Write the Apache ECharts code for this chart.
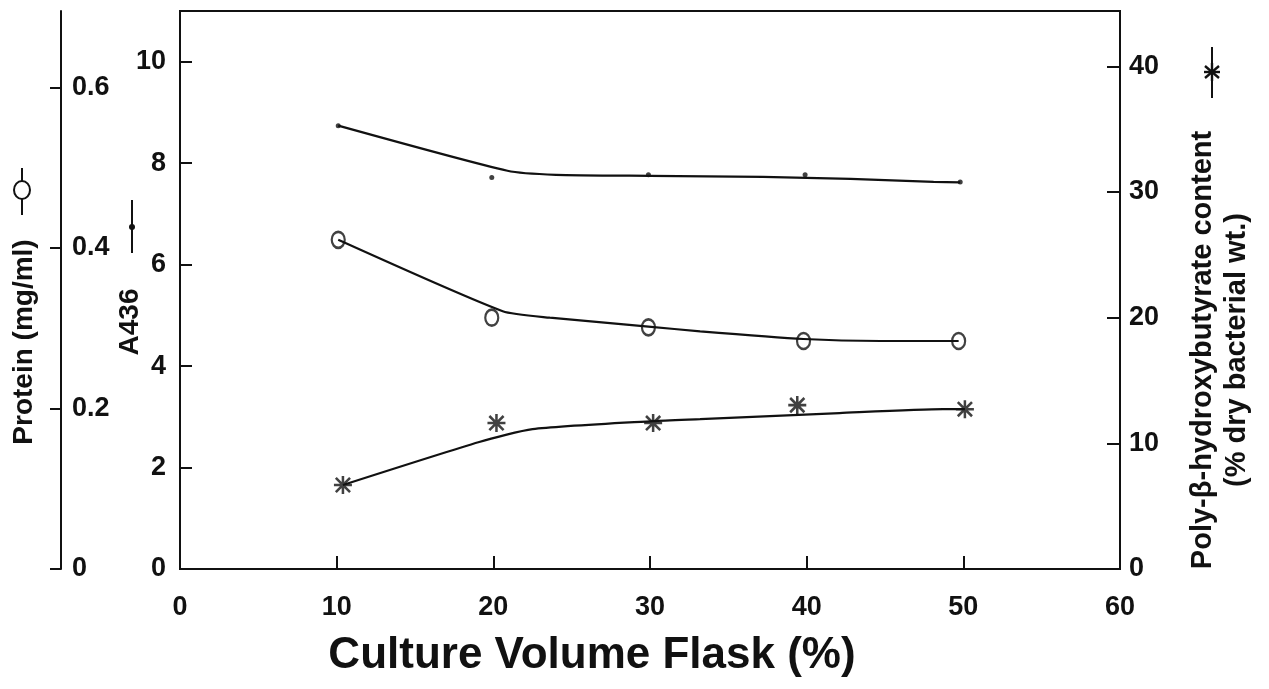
<!DOCTYPE html>
<html><head><meta charset="utf-8">
<script src="https://cdn.jsdelivr.net/npm/echarts@6/dist/echarts.min.js"></script>
<style>html,body{margin:0;padding:0;background:#fff}#c{width:1269px;height:689px}</style>
</head><body><div id="c"></div>
<script>
// ---- tick labels ----
const xTicks = [0, 10, 20, 30, 40, 50, 60];
const a436Ticks = [0, 2, 4, 6, 8, 10];
const proteinTicks = [0, 0.2, 0.4, 0.6];
const phbTicks = [0, 10, 20, 30, 40];

// ---- A436 (left inner axis) ----
const a436X = [10.1, 19.9, 29.9, 39.9, 49.8];
const a436Y = [8.74, 7.72, 7.77, 7.77, 7.63];
const a436TrendX = [10.1, 20.9, 24.0, 30.0, 37.2, 42.8, 48.1, 49.8];
const a436TrendY = [8.74, 7.85, 7.77, 7.75, 7.73, 7.69, 7.63, 7.62];

// ---- Protein (mg/ml) (left outer axis) ----
const proteinX = [10.1, 19.9, 29.9, 39.8, 49.7];
const proteinY = [0.410, 0.313, 0.301, 0.284, 0.284];
const proteinTrendX = [10.1, 20.6, 23.6, 29.9, 33.2, 39.8, 44.7, 49.7];
const proteinTrendY = [0.410, 0.321, 0.313, 0.302, 0.296, 0.2865, 0.284, 0.284];

// ---- Poly-beta-hydroxybutyrate (right axis) ----
const phbX = [10.4, 20.2, 30.2, 39.4, 50.1];
const phbY = [6.68, 11.61, 11.61, 13.04, 12.72];
const phbTrendX = [10.4, 19.1, 22.5, 30.2, 33.2, 42.1, 48.7, 50.1];
const phbTrendY = [6.68, 10.1, 11.13, 11.77, 11.93, 12.41, 12.72, 12.72];

const zip = (xs, ys) => xs.map((x, i) => [x, ys[i]]);
const INK = '#111';
const FONT = '"Liberation Sans", Arial, sans-serif';
const STAR = 'path://M8.6 0H11.4V20H8.6Z M0 8.6H20V11.4H0Z M1.1 3.1L3.1 1.1L18.9 16.9L16.9 18.9Z M16.9 1.1L18.9 3.1L3.1 18.9L1.1 16.9Z';

const chart = echarts.init(document.getElementById('c'), null, {renderer: 'canvas'});

const labelStyle = {color: INK, fontFamily: FONT, fontWeight: 'bold', fontSize: 27};

const option = {
  animation: false,
  backgroundColor: '#fff',
  grid: {left: 180, right: 149, top: 11, bottom: 120, show: true, borderColor: INK, borderWidth: 2},
  xAxis: {
    type: 'value', min: 0, max: 60, interval: 10,
    axisLine: {lineStyle: {color: INK, width: 2}},
    axisTick: {inside: true, length: 13, customValues: xTicks, lineStyle: {color: INK, width: 2}},
    axisLabel: Object.assign({margin: 25, customValues: xTicks}, labelStyle),
    splitLine: {show: false}
  },
  yAxis: [
    {
      type: 'value', position: 'left', min: 0, max: 11, interval: 2,
      axisLine: {show: true, lineStyle: {color: INK, width: 2}},
      axisTick: {show: true, inside: true, length: 12, customValues: a436Ticks, lineStyle: {color: INK, width: 2}},
      axisLabel: Object.assign({margin: 14, customValues: a436Ticks}, labelStyle),
      splitLine: {show: false}
    },
    {
      type: 'value', position: 'left', offset: 119, min: 0, max: 0.695, interval: 0.2,
      axisLine: {show: true, lineStyle: {color: INK, width: 2}},
      axisTick: {show: true, inside: false, length: 11, customValues: proteinTicks, lineStyle: {color: INK, width: 2}},
      axisLabel: Object.assign({inside: true, margin: 11, customValues: proteinTicks}, labelStyle),
      splitLine: {show: false}
    },
    {
      type: 'value', position: 'right', min: 0, max: 44.4, interval: 10,
      axisLine: {show: true, lineStyle: {color: INK, width: 2}},
      axisTick: {show: true, inside: true, length: 13, customValues: phbTicks, lineStyle: {color: INK, width: 2}},
      axisLabel: Object.assign({margin: 9, customValues: phbTicks}, labelStyle),
      splitLine: {show: false}
    }
  ],
  series: [
    {type: 'line', yAxisIndex: 0, data: zip(a436TrendX, a436TrendY), smooth: 0.2, showSymbol: false,
     lineStyle: {color: INK, width: 2.2}, silent: true},
    {type: 'scatter', yAxisIndex: 0, data: zip(a436X, a436Y), symbol: 'circle', symbolSize: 5,
     itemStyle: {color: INK}},
    {type: 'line', yAxisIndex: 1, data: zip(proteinTrendX, proteinTrendY), smooth: 0.2, showSymbol: false,
     lineStyle: {color: INK, width: 2.2}, silent: true},
    {type: 'scatter', yAxisIndex: 1, data: zip(proteinX, proteinY), symbol: 'circle', symbolSize: [13, 16],
     itemStyle: {color: 'rgba(255,255,255,0)', borderColor: INK, borderWidth: 2.4}},
    {type: 'line', yAxisIndex: 2, data: zip(phbTrendX, phbTrendY), smooth: 0.2, showSymbol: false,
     lineStyle: {color: INK, width: 2.2}, silent: true},
    {type: 'scatter', yAxisIndex: 2, data: zip(phbX, phbY), symbol: STAR, symbolSize: 18,
     itemStyle: {color: INK}}
  ],
  graphic: [
    {type: 'text', x: 24, y: 342, rotation: Math.PI / 2,
     style: {text: 'Protein (mg/ml)', font: 'bold 28px ' + FONT, fill: INK, align: 'center', verticalAlign: 'middle'}},
    {type: 'line', shape: {x1: 22, y1: 168, x2: 22, y2: 215}, style: {stroke: INK, lineWidth: 2}},
    {type: 'ellipse', shape: {cx: 22, cy: 190, rx: 8, ry: 9}, style: {fill: '#fff', stroke: INK, lineWidth: 2}},

    {type: 'text', x: 130, y: 322, rotation: Math.PI / 2,
     style: {text: 'A436', font: 'bold 28px ' + FONT, fill: INK, align: 'center', verticalAlign: 'middle'}},
    {type: 'line', shape: {x1: 132, y1: 200, x2: 132, y2: 253}, style: {stroke: INK, lineWidth: 2}},
    {type: 'circle', shape: {cx: 132, cy: 227, r: 3}, style: {fill: INK}},

    {type: 'text', x: 1203, y: 350, rotation: Math.PI / 2,
     style: {text: 'Poly-\u03B2-hydroxybutyrate content', font: 'bold 29px ' + FONT, fill: INK, align: 'center', verticalAlign: 'middle'}},
    {type: 'text', x: 1237, y: 350, rotation: Math.PI / 2,
     style: {text: '(% dry bacterial wt.)', font: 'bold 29px ' + FONT, fill: INK, align: 'center', verticalAlign: 'middle'}},
    {type: 'line', shape: {x1: 1212, y1: 47, x2: 1212, y2: 98}, style: {stroke: INK, lineWidth: 2}},
    {type: 'group', x: 1212, y: 72, children: [
      {type: 'line', shape: {x1: 0, y1: -9, x2: 0, y2: 9}, style: {stroke: INK, lineWidth: 2.4}},
      {type: 'line', shape: {x1: -7, y1: -6, x2: 7, y2: 6}, style: {stroke: INK, lineWidth: 2.4}},
      {type: 'line', shape: {x1: -7, y1: 6, x2: 7, y2: -6}, style: {stroke: INK, lineWidth: 2.4}},
      {type: 'line', shape: {x1: -8, y1: 0, x2: 8, y2: 0}, style: {stroke: INK, lineWidth: 2.4}}
    ]},

    {type: 'text', x: 592, y: 656,
     style: {text: 'Culture Volume Flask (%)', font: 'bold 44px ' + FONT, fill: INK, align: 'center', verticalAlign: 'middle'}}
  ]
};
chart.setOption(option);
</script>
</body></html>
